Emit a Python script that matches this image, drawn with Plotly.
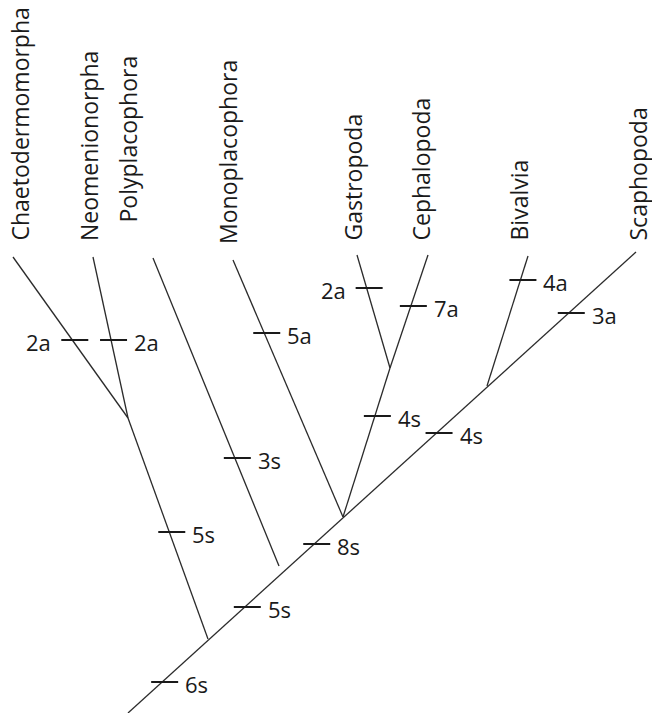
import plotly.graph_objects as go

# ---- data: cladogram of Mollusca (node positions in drawing units) ----
taxa = ["Chaetodermomorpha", "Neomenionorpha", "Polyplacophora", "Monoplacophora",
        "Gastropoda", "Cephalopoda", "Bivalvia", "Scaphopoda"]
tip_x = [13, 93, 153, 233, 357, 428, 528, 636]
tip_y = [257, 257, 258, 260, 255, 255, 256, 252]
label_x = [19, 89, 127, 228, 352, 420, 518, 637]
label_bottom = [240, 240, 222, 243, 240, 240, 240, 240]

# internal nodes
node_names = ["root", "aplac", "aculif", "poly_end", "conch", "gascep", "bivsca"]
node_x = [128, 128, 208, 279, 343, 390, 487]
node_y = [713, 418, 639, 566, 517, 368, 386]

# branches: (from, to)
branch_from = ["Chaetodermomorpha", "Neomenionorpha", "aplac", "Polyplacophora",
               "Monoplacophora", "Gastropoda", "Cephalopoda", "gascep",
               "Bivalvia", "root"]
branch_to = ["aplac", "aplac", "aculif", "poly_end", "conch", "gascep", "gascep",
             "conch", "bivsca", "Scaphopoda"]

# character-change ticks: branch index, y level, label, side
tick_branch = [0, 1, 4, 5, 6, 8, 9, 7, 9, 3, 9, 2, 9, 9]
tick_y = [340, 340, 333, 288, 306, 280, 313, 416, 433, 458, 544, 532, 607, 682]
tick_label = ["2a", "2a", "5a", "2a", "7a", "4a", "3a", "4s", "4s", "3s", "8s", "5s", "5s", "6s"]
tick_side = ["left", "right", "right", "left", "right", "right", "right",
             "right", "right", "right", "right", "right", "right", "right"]

# ---- build coordinates ----
pos = {}
for n, x, y in zip(taxa, tip_x, tip_y):
    pos[n] = (x, y)
for n, x, y in zip(node_names, node_x, node_y):
    pos[n] = (x, y)

LINE = "#2b2b2b"
FONT = "Open Sans"
fig = go.Figure()

bx, by = [], []
for a, b in zip(branch_from, branch_to):
    (x0, y0), (x1, y1) = pos[a], pos[b]
    bx += [x0, x1, None]
    by += [y0, y1, None]
fig.add_trace(go.Scatter(x=bx, y=by, mode="lines",
                         line=dict(color=LINE, width=1.3), hoverinfo="skip"))

def x_on_branch(i, y):
    (x0, y0), (x1, y1) = pos[branch_from[i]], pos[branch_to[i]]
    t = (y - y0) / (y1 - y0)
    return x0 + t * (x1 - x0)

tx, ty = [], []
ann = []
for bi, yv, lab, side in zip(tick_branch, tick_y, tick_label, tick_side):
    xc = x_on_branch(bi, yv)
    xa, xb = xc - 11, xc + 16
    tx += [xa, xb, None]
    ty += [yv, yv, None]
    if side == "right":
        ann.append(dict(x=xb + 5, y=yv + 2, text=lab, xanchor="left", yanchor="middle"))
    else:
        ann.append(dict(x=xa - 8, y=yv + 2, text=lab, xanchor="right", yanchor="middle"))
fig.add_trace(go.Scatter(x=tx, y=ty, mode="lines",
                         line=dict(color="#1a1a1a", width=2), hoverinfo="skip"))

for a in ann:
    fig.add_annotation(xref="x", yref="y", showarrow=False,
                       font=dict(family=FONT, size=22, color="#1a1a1a"), **a)

for name, lx, lb in zip(taxa, label_x, label_bottom):
    fig.add_annotation(x=lx, y=lb + 2, xref="x", yref="y", text=name, showarrow=False,
                       textangle=-90, xanchor="center", yanchor="bottom", borderpad=0,
                       font=dict(family=FONT, size=23, color="#1a1a1a"))

fig.update_layout(width=652, height=713, margin=dict(l=0, r=0, t=0, b=0),
                  paper_bgcolor="white", plot_bgcolor="white", showlegend=False,
                  xaxis=dict(range=[0, 652], visible=False, fixedrange=True),
                  yaxis=dict(range=[713, 0], visible=False, fixedrange=True))
fig.write_html("out.html", config={"displayModeBar": False, "staticPlot": True},
               post_script="document.body.style.margin='0';document.body.style.overflow='hidden';")
